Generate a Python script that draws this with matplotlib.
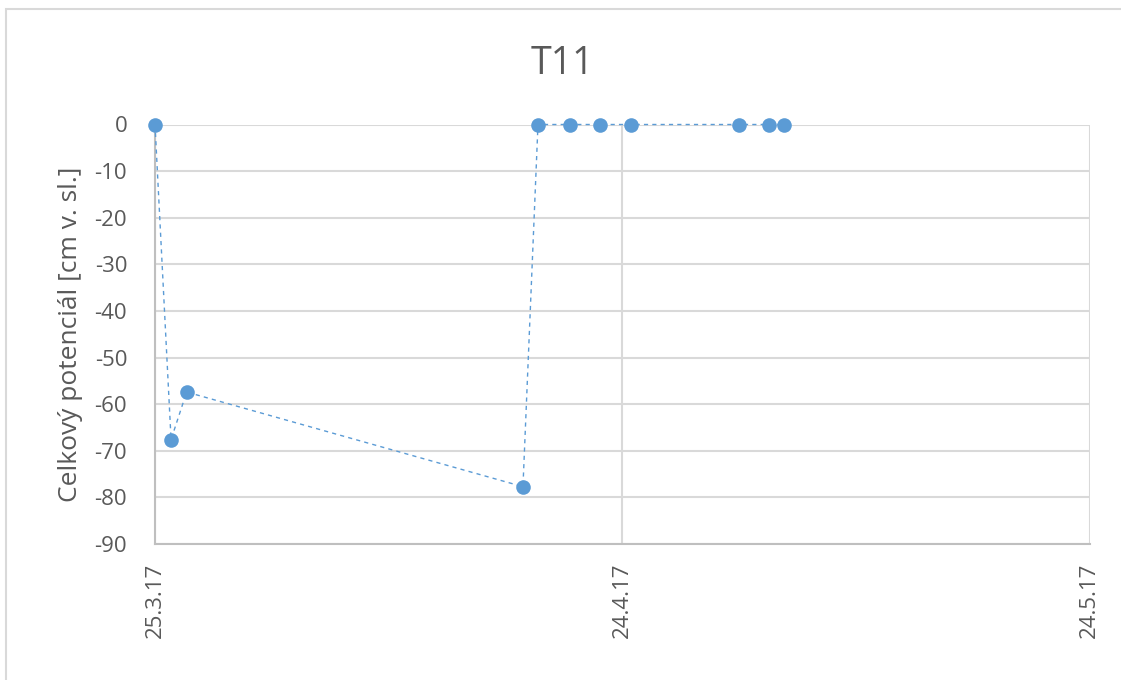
import datetime as dt
import matplotlib
matplotlib.use("Agg")
import matplotlib.pyplot as plt
from matplotlib.patches import Rectangle

# Měření T11 - celkový potenciál
casy = [
    dt.datetime(2017, 3, 25, 0, 0),
    dt.datetime(2017, 3, 26, 0, 45),
    dt.datetime(2017, 3, 27, 0, 45),
    dt.datetime(2017, 4, 17, 15, 0),
    dt.datetime(2017, 4, 18, 14, 10),
    dt.datetime(2017, 4, 20, 15, 0),
    dt.datetime(2017, 4, 22, 13, 0),
    dt.datetime(2017, 4, 24, 14, 0),
    dt.datetime(2017, 5, 1, 11, 30),
    dt.datetime(2017, 5, 3, 9, 40),
    dt.datetime(2017, 5, 4, 8, 30),
]
potencial = [0, -67.6, -57.4, -77.7, 0, 0, 0, 0, 0, 0, 0]

osa_x_ticky = [dt.datetime(2017, 3, 25), dt.datetime(2017, 4, 24), dt.datetime(2017, 5, 24)]
osa_x_popisky = ["25.3.17", "24.4.17", "24.5.17"]
osa_y_ticky = list(range(0, -100, -10))

plt.rcParams["font.family"] = ["Open Sans", "DejaVu Sans"]
plt.rcParams["axes.unicode_minus"] = False

W, H = 1121, 680
fig = plt.figure(figsize=(W / 100, H / 100), dpi=100)

# ramecek grafu
fig.patches.append(Rectangle((6 / W, -0.1), 1.2, 1 - 9 / H + 0.1, transform=fig.transFigure,
                             fill=False, edgecolor="#d9d9d9", linewidth=1.5))

ax = fig.add_axes([155 / W, 1 - 544 / H, (1089.5 - 155) / W, (544 - 124.5) / H])

ax.plot(casy, potencial, linestyle=(0, (3, 3)), linewidth=1.0, color="#5b9bd5",
        marker="o", markersize=10.5, markeredgewidth=0, zorder=3, clip_on=False)

ax.set_xlim(osa_x_ticky[0], osa_x_ticky[-1])
ax.set_ylim(-90, 0)
ax.set_xticks(osa_x_ticky)
ax.set_xticklabels(osa_x_popisky, rotation=90)
ax.set_yticks(osa_y_ticky)

ax.grid(True, color="#d9d9d9", linewidth=1.5)
ax.set_axisbelow(True)
for s in ["top", "right"]:
    ax.spines[s].set_visible(False)
for s in ["left", "bottom"]:
    ax.spines[s].set_color("#bfbfbf")
    ax.spines[s].set_linewidth(1.5)
ax.tick_params(length=0, labelsize=16, labelcolor="#595959")
ax.tick_params(axis="x", pad=13.5)
ax.tick_params(axis="y", pad=20)

ax.set_ylabel("Celkový potenciál [cm v. sl.]", fontsize=19, color="#595959")
ax.yaxis.set_label_coords(-0.077, 0.5)
fig.text(562 / W, 1 - 64 / H, "T11", fontsize=27, color="#595959", ha="center", va="center")

fig.savefig("out.png", dpi=100)
